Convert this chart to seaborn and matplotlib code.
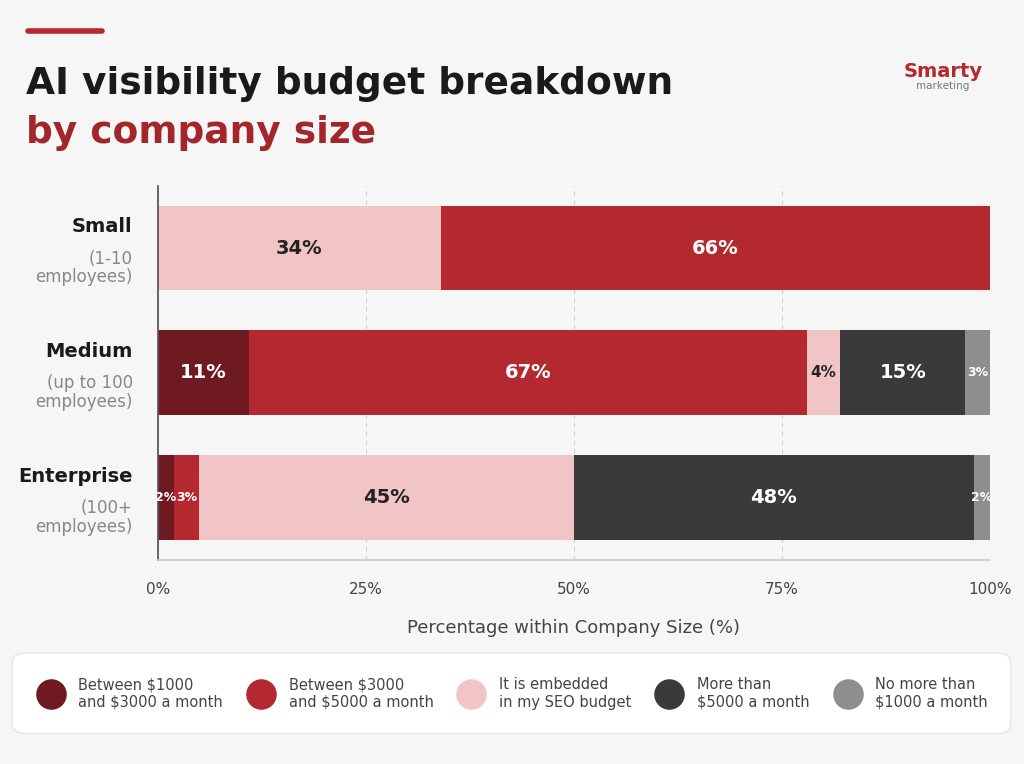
import matplotlib.pyplot as plt
import seaborn as sns
import pandas as pd
import numpy as np
from matplotlib.lines import Line2D
from matplotlib.patches import FancyBboxPatch

companies = ["Small", "Medium", "Enterprise"]
company_sub = ["(1-10\nemployees)", "(up to 100\nemployees)", "(100+\nemployees)"]
segments = ["Between $1000\nand $3000 a month", "Between $3000\nand $5000 a month",
            "It is embedded\nin my SEO budget", "More than\n$5000 a month", "No more than\n$1000 a month"]
# order of segments in each bar, left to right
bar_order = [
    [2, 1],
    [0, 1, 2, 3, 4],
    [0, 1, 2, 3, 4],
]
bar_values = [
    [34, 66],
    [11, 67, 4, 15, 3],
    [2, 3, 45, 48, 2],
]
colors = ["#6e1a20", "#b3292f", "#f1c5c6", "#3a3a3c", "#8e8e8e"]
text_colors = ["white", "white", "#222222", "white", "white"]

sns.set_theme(style="whitegrid")
plt.rcParams['font.family'] = ['DejaVu Sans']
fig = plt.figure(figsize=(10.24, 7.64), dpi=100)
fig.patch.set_facecolor("#f6f6f6")
ax = fig.add_axes([0.154, 0.267, 0.813, 0.49])
ax.set_facecolor("#f6f6f6")

# cumulative right edges, drawn from widest to narrowest
rows = []
for ci, (order, vals) in enumerate(zip(bar_order, bar_values)):
    cum = np.cumsum(vals)
    for seg, v, c in zip(order, vals, cum):
        rows.append(dict(company=companies[ci], seg=seg, value=v, right=c, left=c - v))
df = pd.DataFrame(rows)

for rank in range(5, 0, -1):
    for ci, comp in enumerate(companies):
        sub = df[df.company == comp].reset_index(drop=True)
        if rank > len(sub):
            continue
        r = sub.iloc[rank - 1]
        d = pd.DataFrame({"company": companies, "right": [r.right if c == comp else 0 for c in companies]})
        sns.barplot(data=d, x="right", y="company", order=companies, color=colors[r.seg],
                    orient="h", width=0.68, ax=ax, saturation=1, edgecolor="none")

for _, r in df.iterrows():
    ci = companies.index(r.company)
    fs = 14 if r.value >= 10 else (11 if r.value >= 4 else 9)
    ax.text((r.left + r.right) / 2, ci, f"{r.value}%", ha="center", va="center",
            color=text_colors[r.seg], fontsize=fs, fontweight="bold")

ax.set_xlim(0, 100)
ax.set_ylim(2.5, -0.5)
ax.set_xticks([0, 25, 50, 75, 100])
ax.set_xticklabels(["0%", "25%", "50%", "75%", "100%"], fontsize=11, color="#444444")
ax.tick_params(axis="x", pad=10)
ax.grid(axis="x", color="#cfcfcf", linestyle=(0, (4, 4)), linewidth=0.8)
ax.grid(axis="y", visible=False)
ax.set_axisbelow(True)
ax.set_yticks([])
ax.set_ylabel("")
ax.set_xlabel("Percentage within Company Size (%)", fontsize=13, color="#444444", labelpad=16)
for s in ["top", "right"]:
    ax.spines[s].set_visible(False)
ax.spines["left"].set_color("#555555")
ax.spines["bottom"].set_color("#cccccc")

for ci, (name, sub) in enumerate(zip(companies, company_sub)):
    ax.text(-3, ci - 0.17, name, ha="right", va="center", fontsize=14, fontweight="bold",
            color="#1a1a1a", clip_on=False)
    ax.text(-3, ci + 0.16, sub, ha="right", va="center", fontsize=12, color="#888888",
            linespacing=1.05, clip_on=False)

# title
fig.add_artist(Line2D([0.027, 0.1], [0.96, 0.96], color="#b3292f", lw=4))
fig.text(0.025, 0.89, "AI visibility budget breakdown", fontsize=27, fontweight="bold", color="#1a1a1a", va="center")
fig.text(0.025, 0.826, "by company size", fontsize=27, fontweight="bold", color="#a3262b", va="center")
fig.text(0.882, 0.907, "Smarty", fontsize=14, fontweight="bold", color="#b3292f", va="center")
fig.text(0.895, 0.888, "marketing", fontsize=7.5, color="#777777", va="center")

# legend box
fig.add_artist(FancyBboxPatch((0.012, 0.04), 0.975, 0.105, boxstyle="round,pad=0,rounding_size=0.012",
                              transform=fig.transFigure, facecolor="white", edgecolor="#e6e6e6"))
handles = [Line2D([], [], marker="o", linestyle="", markersize=22, markerfacecolor=c, markeredgecolor="none")
           for c in colors]
fig.legend(handles, segments, loc="center", bbox_to_anchor=(0.5, 0.0925), ncol=5, frameon=False,
           fontsize=10.5, handletextpad=0.9, columnspacing=1.6, labelcolor="#444444")

fig.savefig("out.png", dpi=100, facecolor=fig.get_facecolor())
